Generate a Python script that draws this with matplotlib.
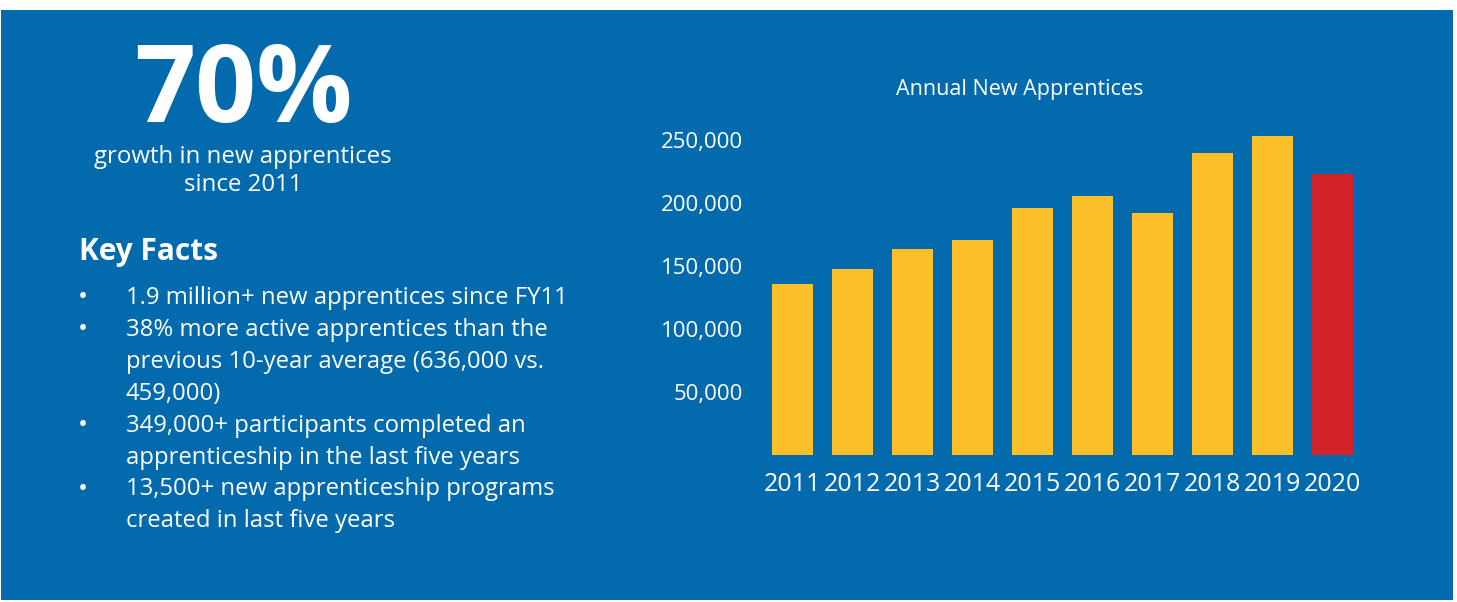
import matplotlib
matplotlib.use("Agg")
import matplotlib.pyplot as plt
from matplotlib.patches import Rectangle
from matplotlib.ticker import FuncFormatter

years = ["2011", "2012", "2013", "2014", "2015", "2016", "2017", "2018", "2019", "2020"]
new_apprentices = [136000, 148000, 163500, 170600, 196000, 205600, 192000, 240000, 253400, 223300]
y_ticks = [50000, 100000, 150000, 200000, 250000]

headline = "70%"
headline_sub = "growth in new apprentices\nsince 2011"
facts = [
    "1.9 million+ new apprentices since FY11",
    "38% more active apprentices than the\nprevious 10-year average (636,000 vs.\n459,000)",
    "349,000+ participants completed an\napprenticeship in the last five years",
    "13,500+ new apprenticeship programs\ncreated in last five years",
]

BLUE = "#036bad"
YELLOW = "#fbbf2a"
RED = "#d2232a"

W, H = 1457, 602
plt.rcParams["font.family"] = ["Open Sans", "DejaVu Sans"]

fig = plt.figure(figsize=(W / 100, H / 100), dpi=100, facecolor="white")


def fx(px):
    return px / W


def fy(py):
    return 1 - py / H


# blue panel behind everything
fig.patches.append(Rectangle((fx(1), fy(600)), fx(1452), (600 - 10) / H,
                             transform=fig.transFigure, facecolor=BLUE,
                             edgecolor="none", zorder=-5))

# left column: headline + key facts
fig.text(fx(243), fy(94), headline, color="white", fontsize=77,
         fontweight="bold", ha="center", va="center")
fig.text(fx(243), fy(171), headline_sub, color="white", fontsize=17.3,
         ha="center", va="center", linespacing=1.25)
fig.text(fx(79), fy(252), "Key Facts", color="white", fontsize=21.5,
         fontweight="bold", ha="left", va="center")

line_h = 31.9
row = 0
for fact in facts:
    y0 = 298 + row * line_h
    fig.text(fx(83), fy(y0), "\u2022", color="white", fontsize=19,
             ha="center", va="center")
    for k, line in enumerate(fact.split("\n")):
        fig.text(fx(126), fy(y0 + k * line_h), line, color="white",
                 fontsize=17.2, ha="left", va="center")
    row += fact.count("\n") + 1

# bar chart on the right
ax = fig.add_axes([fx(762.5), 147 / H, fx(600), 327.6 / H])
ax.set_facecolor("none")
colors = [YELLOW] * (len(years) - 1) + [RED]
ax.bar(range(len(years)), new_apprentices, width=0.68, color=colors)
ax.set_xlim(-0.5, len(years) - 0.5)
ax.set_ylim(0, 260000)
ax.set_xticks(range(len(years)))
ax.set_xticklabels(years)
ax.set_yticks(y_ticks)
ax.yaxis.set_major_formatter(FuncFormatter(lambda v, p: f"{int(v):,}"))
ax.tick_params(axis="x", length=0, pad=12, labelsize=18, labelcolor="white")
ax.tick_params(axis="y", length=0, pad=14, labelsize=16, labelcolor="white")
for s in ax.spines.values():
    s.set_visible(False)

fig.text(fx(1019.5), fy(90), "Annual New Apprentices", color="white",
         fontsize=15.5, ha="center", va="center")

fig.savefig("out.png", dpi=100, facecolor="white")
